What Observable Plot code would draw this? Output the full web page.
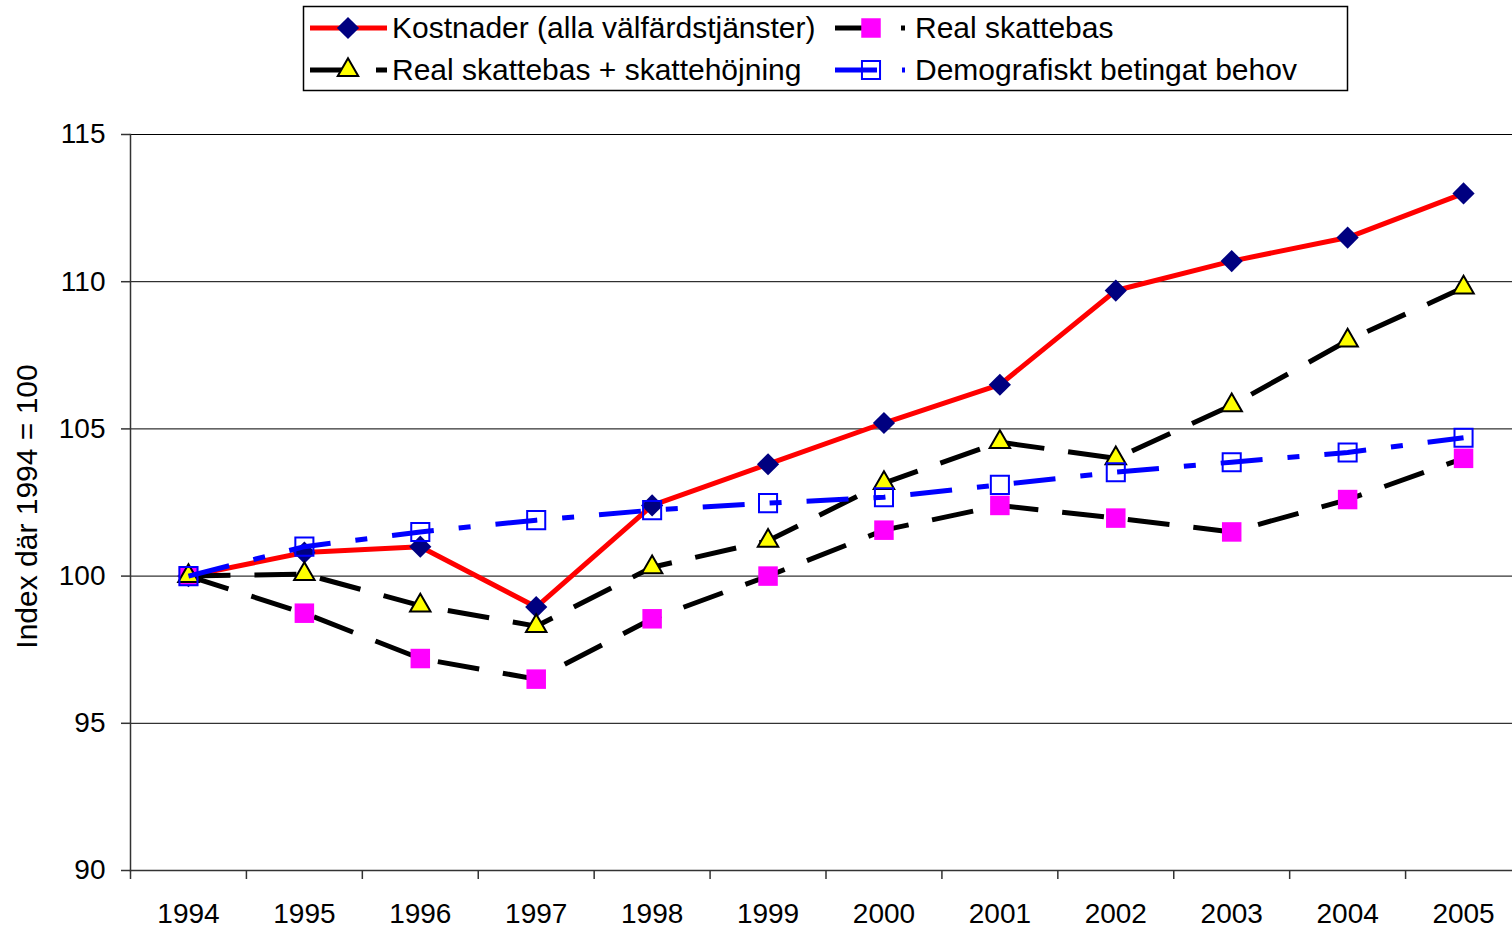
<!DOCTYPE html>
<html>
<head>
<meta charset="utf-8">
<script src="https://cdn.jsdelivr.net/npm/d3@7"></script>
<script src="https://cdn.jsdelivr.net/npm/@observablehq/plot@0.6"></script>
<style>
  html, body { margin: 0; padding: 0; background: #fff; }
  #wrap { width: 1512px; height: 929px; overflow: hidden; font-family: "Liberation Sans", Arial, sans-serif; }
  #legend, #chart svg { display: block; }
</style>
</head>
<body>
<div id="wrap">
  <svg id="legend" width="1512" height="100"></svg>
  <div id="chart"></div>
</div>
<script>
// ---- data ----
const years = [1994, 1995, 1996, 1997, 1998, 1999, 2000, 2001, 2002, 2003, 2004, 2005];
const kostnader = [100, 100.8, 101.0, 98.95, 102.4, 103.8, 105.2, 106.5, 109.7, 110.7, 111.5, 113.0];
const realSkattebas = [100, 98.74, 97.2, 96.5, 98.55, 100, 101.56, 102.4, 101.97, 101.5, 102.6, 104.0];
const realSkattebasHojning = [100, 100.07, 99.0, 98.3, 100.3, 101.2, 103.16, 104.55, 104.0, 105.8, 108.0, 109.8];
const demografiskt = [100, 101.0, 101.5, 101.9, 102.24, 102.48, 102.68, 103.1, 103.53, 103.87, 104.2, 104.7];
const seriesNames = [
  "Kostnader (alla välfärdstjänster)",
  "Real skattebas",
  "Real skattebas + skattehöjning",
  "Demografiskt betingat behov"
];
const yTicks = [90, 95, 100, 105, 110, 115];
const yLabel = "Index där 1994 = 100";

// ---- styles ----
const styles = [
  {stroke: "#FF0000", dash: null, symbol: "diamond2", r: 10, fill: "#000080", mstroke: "none", msw: 0},
  {stroke: "#000000", dash: "42,24", symbol: "square", r: 11, fill: "#FF00FF", mstroke: "none", msw: 0},
  {stroke: "#000000", dash: "42,24", symbol: "triangle", r: 7.6, fill: "#FFFF00", mstroke: "#000", msw: 2},
  {stroke: "#0000FF", dash: "42,25,12,25", symbol: "square", r: 10.2, fill: "none", mstroke: "#0000FF", msw: 2}
];
const seriesValues = [kostnader, realSkattebas, realSkattebasHojning, demografiskt];
const rows = seriesValues.map((vals, i) => years.map((y, j) => ({year: y, value: vals[j], series: seriesNames[i]})));

const boundaries = years.map(y => y - 0.5).concat([years[years.length - 1] + 0.5]);

const marks = [
  Plot.gridY(yTicks.filter(t => t !== 90), {stroke: "#000", strokeOpacity: 1, strokeWidth: 1}),
  Plot.frame({anchor: "left", stroke: "#333", strokeWidth: 1.5}),
  Plot.frame({anchor: "bottom", stroke: "#333", strokeWidth: 1.5}),
  Plot.axisY({ticks: yTicks, tickSize: 9, tickPadding: 16, fontSize: 28, label: null, stroke: "#333", strokeWidth: 1.5}),
  Plot.axisX({ticks: boundaries, tickSize: 9, tickFormat: () => "", label: null, stroke: "#333", strokeWidth: 1.5}),
  Plot.axisX({ticks: years, tickSize: 0, tickPadding: 33, fontSize: 28, tickFormat: d => String(d), label: null}),
  Plot.text([yLabel], {frameAnchor: "left", rotate: -90, dx: -103, dy: 4, fontSize: 30, fill: "#000", textAnchor: "middle"})
];
rows.forEach((data, i) => {
  const s = styles[i];
  marks.push(Plot.line(data, {x: "year", y: "value", stroke: s.stroke, strokeWidth: 5, strokeDasharray: s.dash, strokeLinejoin: "miter", strokeLinecap: "butt"}));
  marks.push(Plot.dot(data, {x: "year", y: "value", symbol: () => s.symbol, r: s.r, fill: s.fill, stroke: s.mstroke, strokeWidth: s.msw}));
});

const chart = Plot.plot({
  width: 1512,
  height: 829,
  marginTop: 34,
  marginBottom: 59,
  marginLeft: 130,
  marginRight: 0,
  style: {fontFamily: "'Liberation Sans', Arial, sans-serif", color: "#000", background: "#fff"},
  x: {type: "linear", domain: [boundaries[0], boundaries[boundaries.length - 1]], range: [130, 1521], axis: null},
  y: {domain: [90, 115], axis: null},
  symbol: {type: "identity"},
  marks
});
document.getElementById("chart").appendChild(chart);

// ---- legend ----
const lg = d3.select("#legend");
lg.append("rect").attr("x", 303.5).attr("y", 6.5).attr("width", 1044).attr("height", 84)
  .attr("fill", "#fff").attr("stroke", "#000").attr("stroke-width", 1.5);
const symMap = {diamond2: d3.symbolDiamond2, square: d3.symbolSquare, triangle: d3.symbolTriangle};
const pos = [
  {x0: 310, x1: 387, xm: 348, xt: 392, y: 28},
  {x0: 835, x1: 905, xm: 871, xt: 915, y: 28},
  {x0: 310, x1: 387, xm: 348, xt: 392, y: 70},
  {x0: 835, x1: 905, xm: 871, xt: 915, y: 70}
];
seriesNames.forEach((name, i) => {
  const s = styles[i], p = pos[i];
  lg.append("line").attr("x1", p.x0).attr("x2", p.x1).attr("y1", p.y).attr("y2", p.y)
    .attr("stroke", s.stroke).attr("stroke-width", 5).attr("stroke-dasharray", s.dash);
  lg.append("path").attr("d", d3.symbol(symMap[s.symbol], Math.PI * s.r * s.r)())
    .attr("transform", `translate(${p.xm},${p.y})`)
    .attr("fill", s.fill).attr("stroke", s.mstroke).attr("stroke-width", s.msw);
  lg.append("text").attr("x", p.xt).attr("y", p.y + 10).attr("font-size", 30)
    .attr("font-family", "'Liberation Sans', Arial, sans-serif").attr("fill", "#000").text(name);
});
</script>
</body>
</html>
